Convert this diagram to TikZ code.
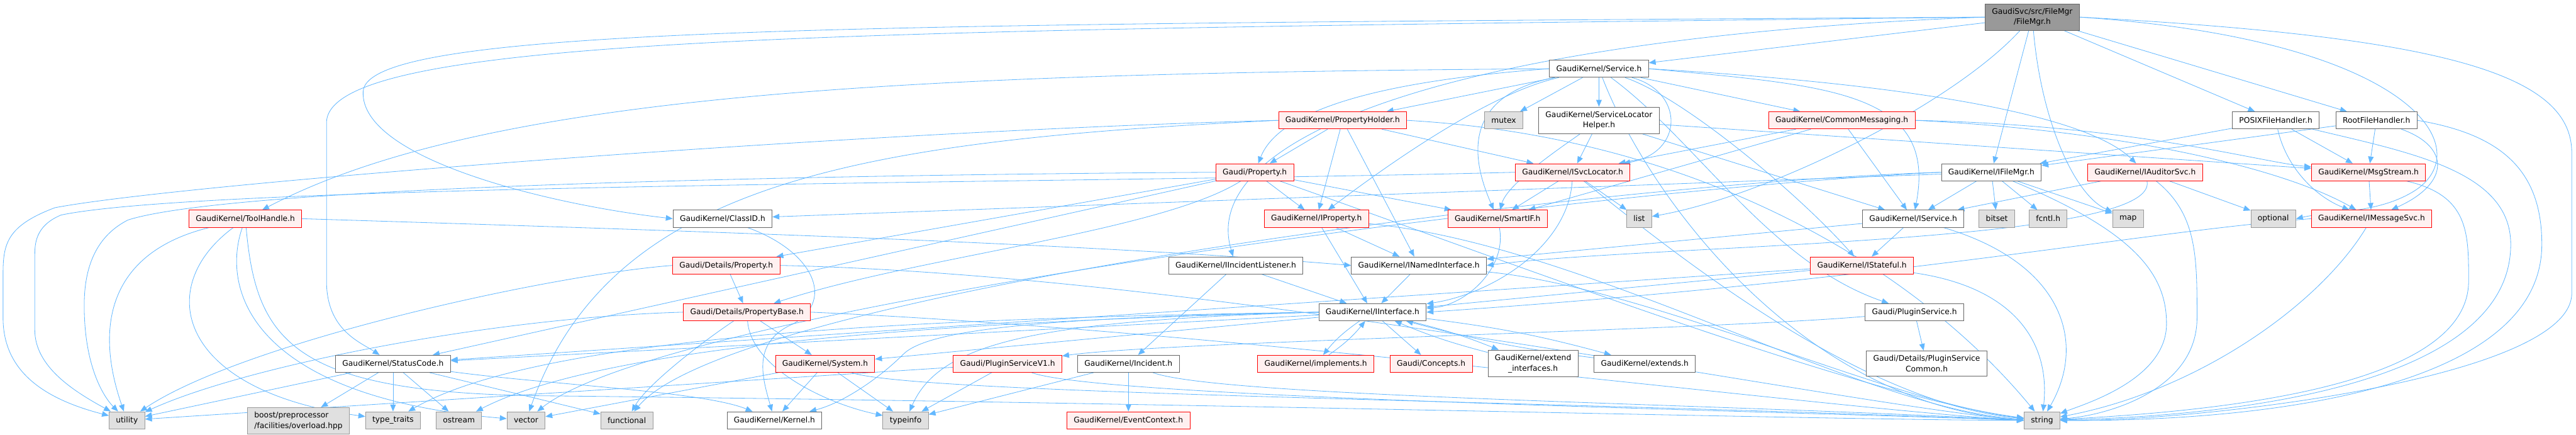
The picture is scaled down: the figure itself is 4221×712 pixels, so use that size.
\documentclass[tikz,border=0pt]{standalone}
\usepackage{fontspec}
\setmainfont{DejaVu Sans}
\usetikzlibrary{arrows.meta, backgrounds}

\definecolor{edgeblue}{HTML}{63B8FF}
\definecolor{docgray}{HTML}{666666}
\definecolor{incred}{HTML}{FF0000}
\definecolor{incfill}{HTML}{FFF0F0}
\definecolor{sysgray}{HTML}{999999}
\definecolor{sysfill}{HTML}{E0E0E0}

\begin{document}
\begin{tikzpicture}[x=0.025cm, y=-0.025cm,
    hdr/.style={rectangle, draw=docgray, fill=white, line width=0.7pt,
                font=\fontsize{9pt}{12.3pt}\selectfont, align=center,
                minimum height=0.7cm, inner xsep=0.28cm, inner ysep=5pt},
    redhdr/.style={hdr, draw=incred, fill=incfill},
    syshdr/.style={hdr, draw=sysgray, fill=sysfill},
    roothdr/.style={hdr, fill=sysgray},
    dep/.style={draw=edgeblue, line width=0.6pt, -{Triangle[length=8pt, width=6.5pt]}}
]
    \useasboundingbox (0,0) rectangle (4221,712);

    % headers, row by row
    \node[roothdr] (fm) at (3330,28) {GaudiSvc/src/FileMgr\\/FileMgr.h};
    \node[hdr] (svc) at (2620,112.5) {GaudiKernel/Service.h};

    \node[redhdr] (propholder) at (2200,197) {GaudiKernel/PropertyHolder.h};
    \node[syshdr] (mutex) at (2464,197) {mutex};
    \node[hdr] (slh) at (2620,197) {GaudiKernel/ServiceLocator\\Helper.h};
    \node[redhdr] (commonmsg) at (3018,197) {GaudiKernel/CommonMessaging.h};
    \node[hdr] (posix) at (3729,197) {POSIXFileHandler.h};
    \node[hdr] (root) at (3894,197) {RootFileHandler.h};

    \node[redhdr] (property) at (2056,282) {Gaudi/Property.h};
    \node[redhdr] (isvcloc) at (2577,282) {GaudiKernel/ISvcLocator.h};
    \node[hdr] (ifilemgr) at (3263,282) {GaudiKernel/IFileMgr.h};
    \node[redhdr] (iauditor) at (3515,282) {GaudiKernel/IAuditorSvc.h};
    \node[redhdr] (msgstream) at (3881,282) {GaudiKernel/MsgStream.h};

    \node[redhdr] (toolhandle) at (402,358) {GaudiKernel/ToolHandle.h};
    \node[hdr] (classid) at (1184,358) {GaudiKernel/ClassID.h};
    \node[redhdr] (iproperty) at (2157,358) {GaudiKernel/IProperty.h};
    \node[redhdr] (smartif) at (2454,358) {GaudiKernel/SmartIF.h};
    \node[syshdr] (list) at (2686,358) {list};
    \node[hdr] (iservice) at (3135,358) {GaudiKernel/IService.h};
    \node[syshdr] (bitset) at (3272,358) {bitset};
    \node[syshdr] (fcntl) at (3356,358) {fcntl.h};
    \node[syshdr] (map) at (3487,358) {map};
    \node[syshdr] (optional) at (3725,358) {optional};
    \node[redhdr] (imsgsvc) at (3886,358) {GaudiKernel/IMessageSvc.h};

    \node[redhdr] (detprop) at (1190,434.5) {Gaudi/Details/Property.h};
    \node[hdr] (iincident) at (2025,434.5) {GaudiKernel/IIncidentListener.h};
    \node[hdr] (inamed) at (2325,434.5) {GaudiKernel/INamedInterface.h};
    \node[redhdr] (istateful) at (3051,434.5) {GaudiKernel/IStateful.h};

    \node[redhdr] (propbase) at (1224,511) {Gaudi/Details/PropertyBase.h};
    \node[hdr] (iinterface) at (2249,511) {GaudiKernel/IInterface.h};
    \node[hdr] (pluginsvc) at (3137,511) {Gaudi/PluginService.h};

    \node[hdr] (statuscode) at (644,595.5) {GaudiKernel/StatusCode.h};
    \node[redhdr] (system) at (1352,595.5) {GaudiKernel/System.h};
    \node[redhdr] (pluginv1) at (1651,595.5) {Gaudi/PluginServiceV1.h};
    \node[hdr] (incident) at (1849,595.5) {GaudiKernel/Incident.h};
    \node[redhdr] (implements) at (2156,595.5) {GaudiKernel/implements.h};
    \node[redhdr] (concepts) at (2345,595.5) {Gaudi/Concepts.h};
    \node[hdr] (extint) at (2512,595) {GaudiKernel/extend\\\_interfaces.h};
    \node[hdr] (extends) at (2695,595.5) {GaudiKernel/extends.h};
    \node[hdr] (plugcommon) at (3157,595) {Gaudi/Details/PluginService\\Common.h};

    \node[syshdr] (utility) at (208,688) {utility};
    \node[syshdr, align=left] (boost) at (489,689) {boost/preprocessor\\/facilities/overload.hpp};
    \node[syshdr] (typetraits) at (644,688) {type\_traits};
    \node[syshdr] (ostream) at (752,688) {ostream};
    \node[syshdr] (vector) at (862,688) {vector};
    \node[syshdr] (functional) at (1027,688) {functional};
    \node[hdr] (kernel) at (1269,688) {GaudiKernel/Kernel.h};
    \node[syshdr] (typeinfo) at (1484,688) {typeinfo};
    \node[redhdr] (eventctx) at (1849,688) {GaudiKernel/EventContext.h};
    \node[syshdr] (string) at (3346,688) {string};

    \begin{scope}[on background layer]
    \fill[white] (0,0) rectangle (4221,712);

    % root header
    \draw[dep] (fm) -- (svc);
    \draw[dep] (fm) -- (ifilemgr);
    \draw[dep] (fm) -- (posix);
    \draw[dep] (fm) -- (root);
    \draw[dep] (fm) .. controls (3345,200) and (3400,320) .. (map);
    \draw[dep] (fm) .. controls (3200,170) and (2900,320) .. (list);
    \draw[dep] (fm.east) .. controls (4000,60) and (4214,120) .. (4214,250) -- (4214,480) .. controls (4214,620) and (3600,690) .. (string.east);
    \draw[dep] (fm.east) .. controls (3950,65) and (4060,240) .. (3960,310) .. controls (3900,350) and (3820,345) .. (optional.east);
    \draw[dep] (fm.west) .. controls (2400,60) and (1960,220) .. (iincident);
    \draw[dep] (fm.west) .. controls (1400,40) and (600,42) .. (595,150) .. controls (590,260) and (900,335) .. (classid.west);
    \draw[dep] (fm.west) .. controls (1400,50) and (540,55) .. (535,200) -- (535,460) .. controls (535,540) and (590,560) .. (statuscode);

    % Service.h
    \draw[dep] (svc) -- (slh);
    \draw[dep] (svc) -- (mutex);
    \draw[dep] (svc) -- (propholder);
    \draw[dep] (svc) -- (commonmsg);
    \draw[dep] (svc) .. controls (2760,150) and (2760,250) .. (isvcloc);
    \draw[dep] (svc.east) .. controls (3000,130) and (3400,170) .. (iauditor);
    \draw[dep] (svc.east) .. controls (3000,140) and (3175,150) .. (iservice);
    \draw[dep] (svc) .. controls (2760,160) and (2950,320) .. (istateful);
    \draw[dep] (svc) .. controls (2780,230) and (2900,430) .. (pluginsvc);
    \draw[dep] (svc) .. controls (2700,320) and (2950,660) .. (string.west);
    \draw[dep] (svc) .. controls (2380,160) and (2420,280) .. (smartif);
    \draw[dep] (svc) .. controls (2450,150) and (2300,250) .. (iproperty);
    \draw[dep] (svc.west) .. controls (2300,130) and (2100,170) .. (property);
    \draw[dep] (svc.west) .. controls (1500,120) and (800,150) .. (toolhandle);

    % PropertyHolder.h
    \draw[dep] (propholder) -- (property);
    \draw[dep] (propholder) -- (iproperty);
    \draw[dep] (propholder) -- (inamed);
    \draw[dep] (propholder) -- (isvcloc);
    \draw[dep] (propholder.east) .. controls (2800,225) and (3150,450) .. (string);
    \draw[dep] (propholder.west) .. controls (1400,215) and (300,300) .. (90,340) .. controls (10,370) and (5,400) .. (5,450) -- (5,520) .. controls (5,600) and (60,650) .. (utility);
    \draw[dep] (propholder.west) .. controls (1400,230) and (1000,300) .. (vector);

    % Property.h
    \draw[dep] (property) -- (iproperty);
    \draw[dep] (property) -- (smartif);
    \draw[dep] (property) -- (detprop);
    \draw[dep] (property) .. controls (1900,380) and (1500,420) .. (propbase);
    \draw[dep] (property.west) .. controls (1500,285) and (400,300) .. (210,360) .. controls (150,390) and (138,450) .. (138,500) .. controls (138,600) and (170,650) .. (utility);
    \draw[dep] (property) .. controls (2450,420) and (3050,650) .. (string);
    \draw[dep] (property) -- (statuscode);

    % IProperty.h
    \draw[dep] (iproperty) -- (iinterface);
    \draw[dep] (iproperty) -- (inamed);
    \draw[dep] (iproperty) .. controls (2600,400) and (3050,670) .. (string);

    % ISvcLocator.h
    \draw[dep] (isvcloc) -- (smartif);
    \draw[dep] (isvcloc) -- (list);
    \draw[dep] (isvcloc) .. controls (2570,400) and (2450,480) .. (iinterface);
    \draw[dep] (isvcloc) .. controls (2750,420) and (3050,660) .. (string);
    \draw[dep] (isvcloc.west) .. controls (1800,300) and (350,300) .. (100,352) .. controls (57,370) and (57,400) .. (57,420) -- (57,540) .. controls (57,600) and (120,640) .. (utility);

    % CommonMessaging.h
    \draw[dep] (commonmsg) -- (isvcloc);
    \draw[dep] (commonmsg) -- (smartif);
    \draw[dep] (commonmsg) -- (iservice);
    \draw[dep] (commonmsg.east) .. controls (3500,205) and (3700,265) .. (msgstream);
    \draw[dep] (commonmsg.east) .. controls (3500,215) and (3750,280) .. (imsgsvc);

    % ServiceLocatorHelper.h
    \draw[dep] (slh) -- (isvcloc);
    \draw[dep] (slh) .. controls (2560,240) and (2470,300) .. (smartif);
    \draw[dep] (slh) -- (iservice);
    \draw[dep] (slh) -- (msgstream);

    % IFileMgr.h
    \draw[dep] (ifilemgr) -- (iservice);
    \draw[dep] (ifilemgr) -- (bitset);
    \draw[dep] (ifilemgr) -- (fcntl);
    \draw[dep] (ifilemgr) -- (map);
    \draw[dep] (ifilemgr) .. controls (3500,380) and (3550,450) .. (3550,530) .. controls (3550,620) and (3420,660) .. (string);
    \draw[dep] (ifilemgr) -- (classid);
    \draw[dep] (ifilemgr.west) .. controls (2600,300) and (1200,480) .. (functional);
    \draw[dep] (ifilemgr.west) .. controls (2600,310) and (1100,500) .. (vector);

    % IAuditorSvc.h
    \draw[dep] (iauditor) -- (iservice);
    \draw[dep] (iauditor) -- (optional);
    \draw[dep] (iauditor) .. controls (3540,400) and (2700,400) .. (inamed.east);
    \draw[dep] (iauditor) .. controls (3600,350) and (3600,420) .. (3600,520) .. controls (3600,640) and (3450,680) .. (string);

    % file handlers
    \draw[dep] (posix) -- (ifilemgr);
    \draw[dep] (posix) -- (msgstream);
    \draw[dep] (posix) .. controls (3745,270) and (3790,320) .. (imsgsvc);
    \draw[dep] (posix) .. controls (3950,250) and (4114,280) .. (4114,400) .. controls (4114,620) and (3700,680) .. (string);
    \draw[dep] (root) -- (ifilemgr);
    \draw[dep] (root) -- (msgstream);
    \draw[dep] (root) .. controls (4015,240) and (4015,300) .. (imsgsvc);
    \draw[dep] (root.east) .. controls (4100,220) and (4165,280) .. (4165,400) .. controls (4165,640) and (3700,690) .. (string);

    % messaging
    \draw[dep] (msgstream) -- (imsgsvc);
    \draw[dep] (msgstream) .. controls (4045,320) and (4045,380) .. (4045,460) .. controls (4045,620) and (3700,670) .. (string);
    \draw[dep] (imsgsvc) .. controls (3800,500) and (3600,640) .. (string);
    \draw[dep] (imsgsvc.west) .. controls (3500,380) and (3100,460) .. (iinterface.east);

    % interfaces
    \draw[dep] (iservice) -- (istateful);
    \draw[dep] (iservice) -- (inamed);
    \draw[dep] (iservice) .. controls (3380,430) and (3420,560) .. (string);
    \draw[dep] (istateful) -- (iinterface);
    \draw[dep] (istateful) .. controls (3300,470) and (3360,560) .. (string);
    \draw[dep] (istateful) -- (statuscode);
    \draw[dep] (smartif) .. controls (2470,440) and (2400,500) .. (iinterface);
    \draw[dep] (inamed) -- (iinterface);
    \draw[dep] (inamed) .. controls (2700,470) and (3100,660) .. (string);
    \draw[dep] (iincident) -- (incident);
    \draw[dep] (iincident) -- (iinterface);
    \draw[dep] (incident) -- (eventctx);
    \draw[dep] (incident) -- (typeinfo);
    \draw[dep] (incident) .. controls (2000,650) and (2800,660) .. (string.west);

    % IInterface.h
    \draw[dep] (iinterface) to[bend right=8] (implements);
    \draw[dep] (implements) to[bend right=8] (iinterface);
    \draw[dep] (iinterface) -- (concepts);
    \draw[dep] (iinterface) to[bend left=4] (extint);
    \draw[dep] (extint) to[bend left=4] (iinterface);
    \draw[dep] (iinterface) to[bend left=4] (extends);
    \draw[dep] (extends) to[bend left=4] (iinterface);
    \draw[dep] (iinterface) -- (statuscode);
    \draw[dep] (iinterface) -- (system);
    \draw[dep] (iinterface.west) .. controls (1700,520) and (1520,540) .. (1480,580) .. controls (1440,620) and (1380,660) .. (kernel);
    \draw[dep] (iinterface.west) .. controls (1700,525) and (1540,560) .. (typeinfo);
    \draw[dep] (iinterface.west) .. controls (1600,525) and (1000,560) .. (ostream);
    \draw[dep] (iinterface.west) .. controls (1600,520) and (900,540) .. (typetraits);

    % properties
    \draw[dep] (detprop) -- (propbase);
    \draw[dep] (detprop.west) .. controls (900,450) and (400,560) .. (utility);
    \draw[dep] (detprop.east) .. controls (2000,450) and (3000,660) .. (string.west);
    \draw[dep] (propbase) -- (system);
    \draw[dep] (propbase) .. controls (1150,560) and (1060,630) .. (functional);
    \draw[dep] (propbase) .. controls (1230,600) and (1350,660) .. (typeinfo);
    \draw[dep] (propbase.east) .. controls (2000,540) and (3000,670) .. (string.west);
    \draw[dep] (propbase.west) .. controls (800,520) and (400,600) .. (utility);

    % System.h, plugins
    \draw[dep] (system) -- (kernel);
    \draw[dep] (system) -- (typeinfo);
    \draw[dep] (system) -- (vector);
    \draw[dep] (system) .. controls (1500,645) and (2500,655) .. (string.west);
    \draw[dep] (pluginsvc) -- (plugcommon);
    \draw[dep] (pluginsvc) .. controls (2800,540) and (1900,560) .. (pluginv1);
    \draw[dep] (pluginv1) -- (typeinfo);
    \draw[dep] (pluginv1) -- (utility);
    \draw[dep] (pluginv1) .. controls (1800,650) and (2800,670) .. (string.west);

    % StatusCode.h, ClassID.h
    \draw[dep] (statuscode) -- (boost);
    \draw[dep] (statuscode) -- (typetraits);
    \draw[dep] (statuscode) -- (ostream);
    \draw[dep] (statuscode) -- (functional);
    \draw[dep] (statuscode) -- (utility);
    \draw[dep] (statuscode) .. controls (900,630) and (1150,640) .. (kernel);
    \draw[dep] (classid) .. controls (1330,410) and (1370,490) .. (1300,530) .. controls (1230,560) and (1250,620) .. (kernel);

    % ToolHandle.h
    \draw[dep] (toolhandle) .. controls (190,410) and (150,520) .. (utility);
    \draw[dep] (toolhandle) .. controls (250,470) and (290,640) .. (typetraits);
    \draw[dep] (toolhandle) .. controls (360,480) and (420,650) .. (vector);
    \draw[dep] (toolhandle) .. controls (420,560) and (480,645) .. (900,648) .. controls (2000,660) and (3000,688) .. (string.west);
    \draw[dep] (toolhandle.east) .. controls (1200,380) and (1800,400) .. (inamed.west);
    \end{scope}
\end{tikzpicture}
\end{document}
